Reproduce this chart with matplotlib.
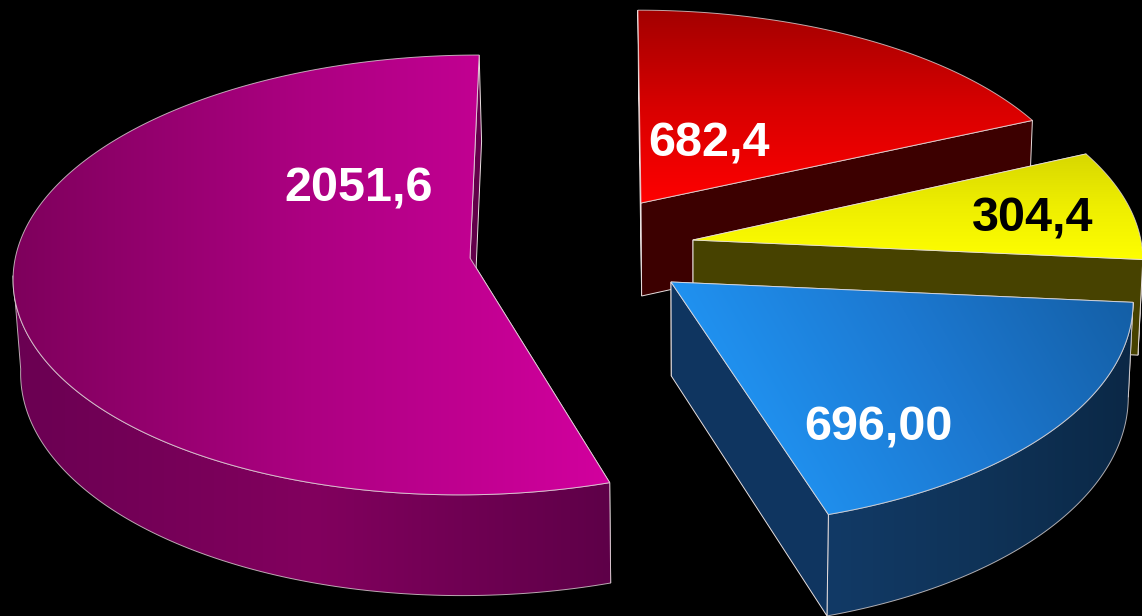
import numpy as np
import matplotlib
matplotlib.use('Agg')
import matplotlib.pyplot as plt
from matplotlib.colors import to_rgb
from matplotlib.patches import Polygon

# slice values, clockwise from 12 o'clock
names = ['red', 'yellow', 'blue', 'magenta']
values = [682.4, 304.4, 696.0, 2051.6]
labels = ['682,4', '304,4', '696,00', '2051,6']

W, H = 1142, 616
RX, RY = 457, 218.6      # disc radii on screen
PERSP = 0.077            # how much the far side shrinks
VX = 598                 # vanishing x of the receding lines
EDGE = '#e8e0e0'

# per slice: apex, depth scales, wall height, label pos, label colour
style = {
    'red':     dict(apex=(641, 203), dx=0.972, dy=0.95, wall=93, text=(709, 144), tc='white'),
    'yellow':  dict(apex=(693, 240), dx=0.98, dy=0.99, wall=95, text=(1033, 219), tc='black'),
    'blue':    dict(apex=(671, 282), dx=1.007, dy=1.035, wall=94, text=(878, 428), tc='white'),
    'magenta': dict(apex=(470, 258), dx=0.995, dy=1.00, wall=93, text=(359, 189), tc='white'),
}

# (start, end, stops) gradients in pixel coords
grad_top = {
    'red':     ((640, 10), (640, 205), ['#a30000', '#d80000', '#ff0000']),
    'yellow':  ((900, 150), (900, 262), ['#d6d600', '#eeee00', '#ffff00']),
    'blue':    ((780, 500), (1130, 300), ['#2093f2', '#1c78d0', '#145fa6']),
    'magenta': ((13, 0), (610, 0), ['#7e005c', '#ad0082', '#d2009e']),
}
grad_wall = {
    'red':     ((640, 0), (1032, 0), ['#3c0000', '#3c0000']),
    'yellow':  ((690, 0), (1142, 0), ['#474200', '#474200']),
    'blue':    ((830, 0), (1130, 0), ['#123a66', '#0f3358', '#0b2846']),
    'magenta': ((15, 0), (611, 0), ['#6a0052', '#82005e', '#5e0048']),
}
cut_color = {'red': '#3c0000', 'yellow': '#474200', 'blue': '#0f3560', 'magenta': '#62004a'}

plt.rcParams['font.family'] = ['Liberation Sans', 'DejaVu Sans']
fig = plt.figure(figsize=(W / 100, H / 100), dpi=100, facecolor='black')
ax = fig.add_axes([0, 0, 1, 1])
ax.set_facecolor('black')
ax.axis('off')

yy, xx = np.mgrid[0:H, 0:W] + 0.5


def project(name, ang):
    # ang in radians clockwise from 12 o'clock, on the disc rim
    st = style[name]
    ax0, ay0 = st['apex']
    X, Y = np.sin(ang), np.cos(ang)
    rel = 1 / (1 + PERSP * Y)
    sx = ax0 + st['dx'] * RX * X * rel + (VX - ax0) * (1 - rel)
    sy = ay0 - st['dy'] * RY * Y * rel
    return sx, sy, rel


def drop(name, x, y, rel=1.0):
    # bottom face: pushed down by wall height, slightly pulled in
    return 700 + (np.asarray(x) - 700) * 0.989, np.asarray(y) + style[name]['wall'] * rel


def grad_poly(pts, grad, z):
    p0, p1, stops = grad
    d = np.array(p1, float) - np.array(p0, float)
    t = ((xx - p0[0]) * d[0] + (yy - p0[1]) * d[1]) / (d @ d)
    pos = np.linspace(0, 1, len(stops))
    rgb = np.array([to_rgb(c) for c in stops])
    img = np.dstack([np.interp(t, pos, rgb[:, i]) for i in range(3)])
    im = ax.imshow(img, extent=(0, W, H, 0), zorder=z, interpolation='nearest', aspect='auto')
    patch = Polygon(pts, closed=True, transform=ax.transData)
    im.set_clip_path(patch)
    ax.add_patch(Polygon(pts, closed=True, fill=False, ec=EDGE, lw=0.7, alpha=0.75, zorder=z + 0.1))


def cut_face(name, apex, x, y, bx, by, i, z):
    # flat face from the apex out to one end of the rim
    abx, aby = drop(name, apex[0], apex[1])
    face = [apex, (x[i], y[i]), (bx[i], by[i]), (abx, aby)]
    ax.add_patch(Polygon(face, closed=True, fc=cut_color[name], ec=EDGE, lw=0.7, zorder=z))


def draw_slice(name, a0, a1, z):
    st = style[name]
    angs = np.linspace(a0, a1, 300)
    x, y, rel = project(name, angs)
    bx, by = drop(name, x, y, rel)
    apex = np.array(st['apex'], float)

    # the start face is turned away, the wall hides it
    cut_face(name, apex, x, y, bx, by, 0, z)

    # only the near part of the rim has a wall to show
    near = np.cos(angs) < -0.08
    if near.sum() > 1:
        wall = np.column_stack([np.r_[x[near], bx[near][::-1]], np.r_[y[near], by[near][::-1]]])
        grad_poly(wall, grad_wall[name], z + 1)

    cut_face(name, apex, x, y, bx, by, -1, z + 2)

    top = np.vstack([apex, np.column_stack([x, y])])
    grad_poly(top, grad_top[name], z + 3)


fracs = np.array(values) / np.sum(values)
edges = np.r_[0, np.cumsum(fracs)] * 2 * np.pi
spans = {n: (edges[i], edges[i + 1]) for i, n in enumerate(names)}

# back to front
for k, name in enumerate(['magenta', 'red', 'yellow', 'blue']):
    draw_slice(name, spans[name][0], spans[name][1], 10 * (k + 1))

for name, lab in zip(names, labels):
    st = style[name]
    ax.text(st['text'][0], st['text'][1], lab, color=st['tc'], fontsize=35, fontweight='bold',
            ha='center', va='center', zorder=100)

ax.set_xlim(0, W)
ax.set_ylim(H, 0)
fig.savefig('out.png', dpi=100, facecolor='black')
